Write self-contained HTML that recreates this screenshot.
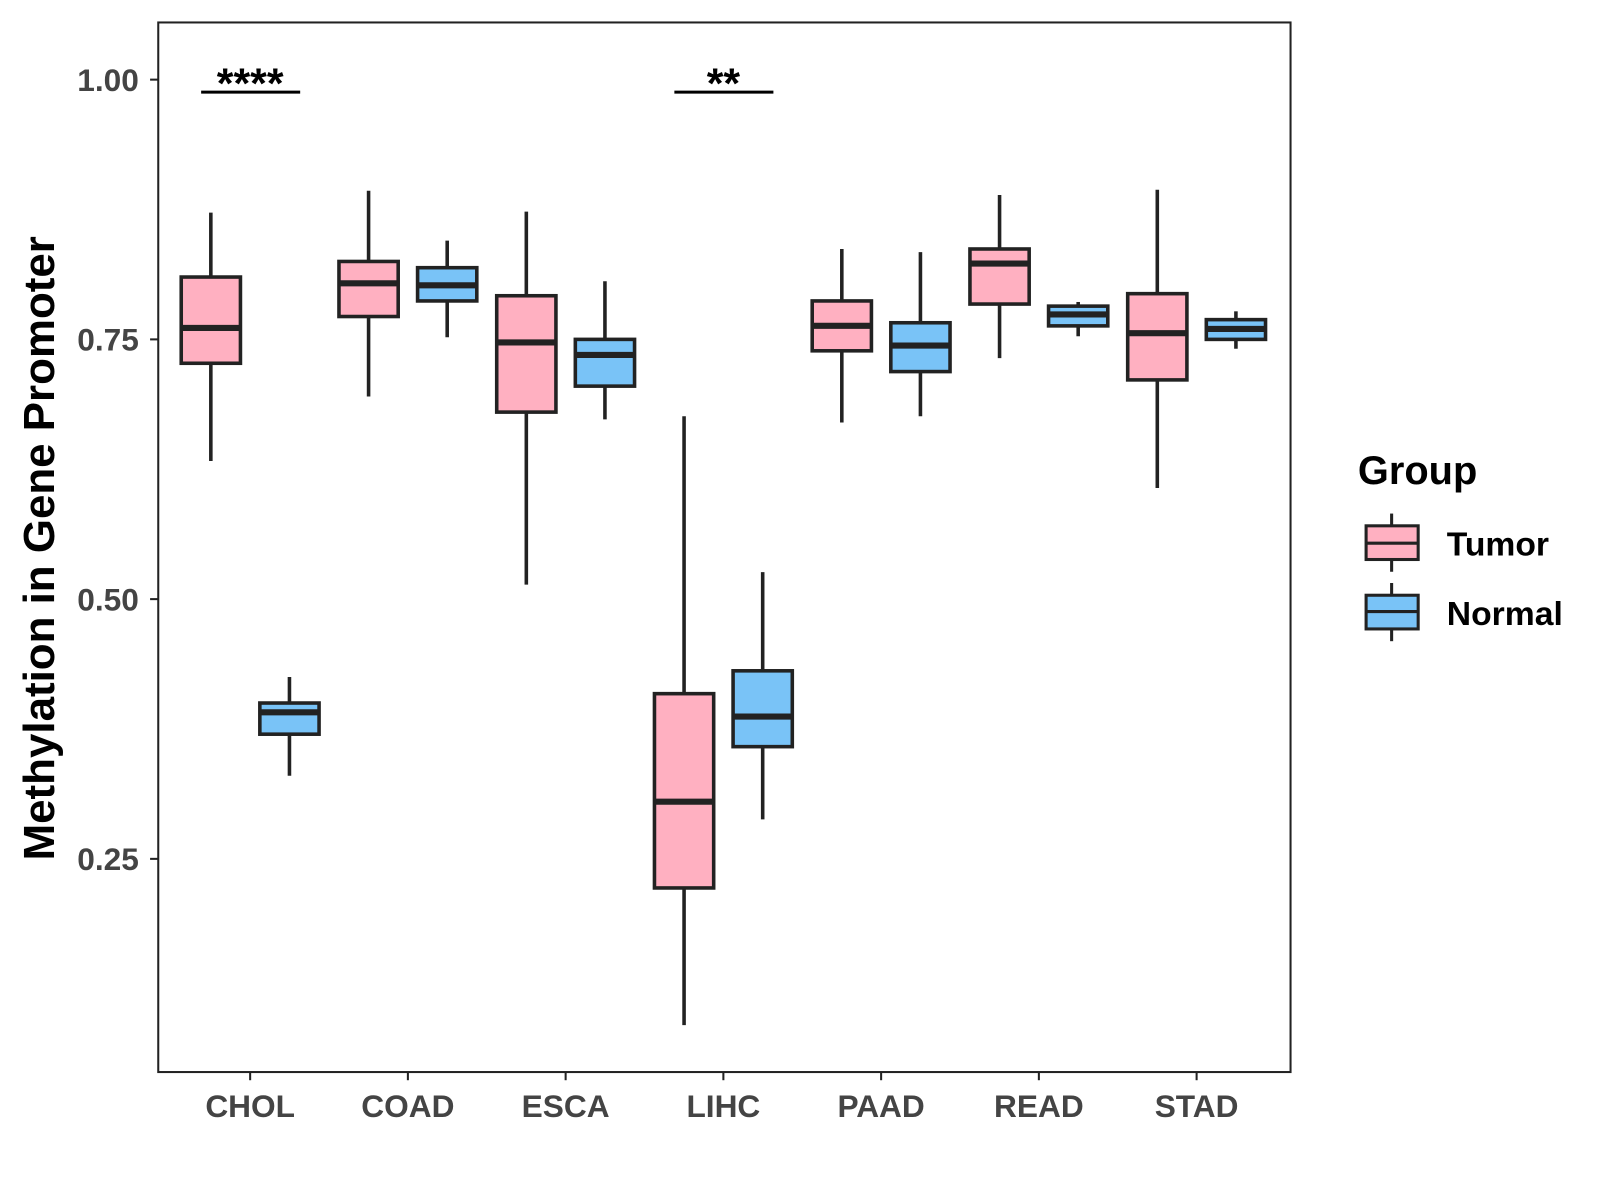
<!DOCTYPE html>
<html><head><meta charset="utf-8"><style>
html,body{margin:0;padding:0;background:#fff;}
svg{display:block;font-family:"Liberation Sans",Arial,sans-serif;}
</style></head><body>
<svg id="chart" width="1600" height="1200" viewBox="0 0 1600 1200">
<g transform="scale(1.021)">
<rect x="155" y="22" width="1109" height="1028" fill="#fff" stroke="#222" stroke-width="2"/>
<g id="yaxis"></g>
<g id="xaxis"></g>
<g id="boxes"></g>
<g id="sig"></g>
<text x="53" y="537" transform="rotate(-90 53 537)" text-anchor="middle" font-size="43" font-weight="bold" fill="#000">Methylation in Gene Promoter</text>
<g>
<text x="1330" y="474" font-size="39" font-weight="bold" fill="#000">Group</text>
<g>
<line x1="1363" y1="503" x2="1363" y2="560" stroke="#222" stroke-width="3"/>
<rect x="1338" y="515" width="51" height="33" fill="#FFB0C1" stroke="#222" stroke-width="3"/>
<line x1="1338" y1="532" x2="1389" y2="532" stroke="#222" stroke-width="3"/>
<text x="1417" y="544" font-size="33" font-weight="bold" fill="#000">Tumor</text>
</g>
<g>
<line x1="1363" y1="571" x2="1363" y2="628" stroke="#222" stroke-width="3"/>
<rect x="1338" y="583" width="51" height="33" fill="#79C3F7" stroke="#222" stroke-width="3"/>
<line x1="1338" y1="599" x2="1389" y2="599" stroke="#222" stroke-width="3"/>
<text x="1417" y="612" font-size="33" font-weight="bold" fill="#000">Normal</text>
</g>
</g>
</g>
</svg>
<script>
const categories = ["CHOL","COAD","ESCA","LIHC","PAAD","READ","STAD"];
// [low, q1, median, q3, high]
const tumorStats = [
 [0.633,0.727,0.761,0.810,0.872],
 [0.695,0.772,0.804,0.825,0.893],
 [0.514,0.680,0.747,0.792,0.873],
 [0.090,0.222,0.305,0.409,0.676],
 [0.670,0.739,0.763,0.787,0.837],
 [0.732,0.784,0.823,0.837,0.889],
 [0.607,0.711,0.756,0.794,0.894]
];
const normalStats = [
 [0.330,0.370,0.391,0.400,0.425],
 [0.752,0.787,0.802,0.819,0.845],
 [0.673,0.705,0.735,0.750,0.806],
 [0.288,0.358,0.387,0.431,0.526],
 [0.676,0.719,0.744,0.766,0.834],
 [0.753,0.763,0.774,0.782,0.786],
 [0.741,0.750,0.760,0.769,0.777]
];
const yTicks = [0.25,0.50,0.75,1.00];
const yTickLabels = ["0.25","0.50","0.75","1.00"];
const sigCategories = ["CHOL","LIHC"];
const sigLabels = ["****","**"];
const sigLevel = 0.988;

const NS="http://www.w3.org/2000/svg";
function y(v){return 78+(1-v)*1017.6;}
function x(i){return 245+i*154.5;}
function mk(tag,attrs,parent){const e=document.createElementNS(NS,tag);for(const k in attrs)e.setAttribute(k,attrs[k]);parent.appendChild(e);return e;}
const ya=document.getElementById('yaxis'),xa=document.getElementById('xaxis'),bx=document.getElementById('boxes'),sg=document.getElementById('sig');
yTicks.forEach((t,i)=>{
 const l=mk('line',{x1:147,x2:155,y1:y(t),y2:y(t),stroke:'#222','stroke-width':2},ya);
 
 
 const tx=mk('text',{x:136,y:y(t)+11,'text-anchor':'end','font-size':31,'font-weight':'bold',fill:'#444'},ya);
 tx.textContent=yTickLabels[i];
 
 
});
categories.forEach((c,i)=>{
 const l=mk('line',{x1:x(i),x2:x(i),y1:1050,y2:1058,stroke:'#222','stroke-width':2},xa);
 
 
 const tx=mk('text',{x:x(i),y:1094,'text-anchor':'middle','font-size':31,'font-weight':'bold',fill:'#444'},xa);
 tx.textContent=c;
 
 
});
function drawBox(s,cx,fill,name){
 const g=mk('g',{},bx);
 
 
 const w=58;
 mk('line',{x1:cx,x2:cx,y1:y(s[4]),y2:y(s[0]),stroke:'#222','stroke-width':3.5},g);
 mk('rect',{x:cx-w/2,y:y(s[3]),width:w,height:y(s[1])-y(s[3]),fill:fill,stroke:'#222','stroke-width':3.5},g);
 mk('line',{x1:cx-w/2,x2:cx+w/2,y1:y(s[2]),y2:y(s[2]),stroke:'#222','stroke-width':6},g);
}
categories.forEach((c,i)=>{
 drawBox(tumorStats[i],x(i)-38.5,'#FFB0C1','box-'+c.toLowerCase()+'-tumor');
 drawBox(normalStats[i],x(i)+38.5,'#79C3F7','box-'+c.toLowerCase()+'-normal');
});
sigCategories.forEach((c,k)=>{
 const i=categories.indexOf(c);
 const l=mk('line',{x1:x(i)-48,x2:x(i)+49,y1:y(sigLevel),y2:y(sigLevel),stroke:'#000','stroke-width':3},sg);
 
 
 const t=mk('text',{x:x(i),y:y(sigLevel)+6,'text-anchor':'middle','font-size':42,'font-weight':'bold',fill:'#000'},sg);
 t.textContent=sigLabels[k];
 
 
});
</script>
</body></html>
